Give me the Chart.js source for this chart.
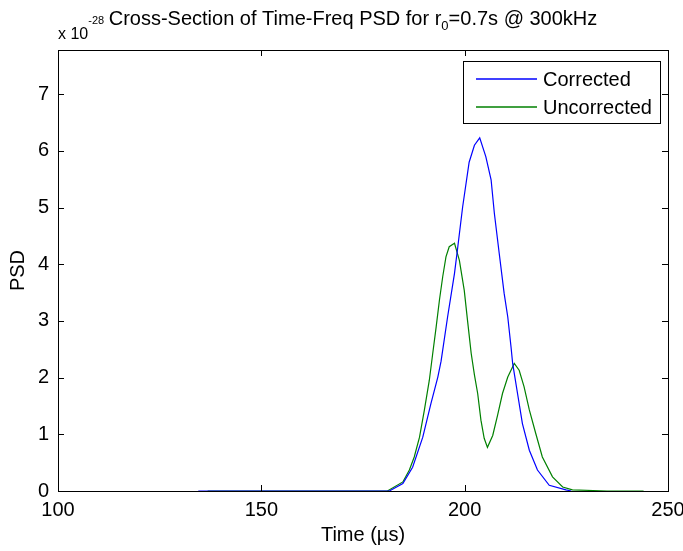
<!DOCTYPE html>
<html>
<head>
<meta charset="utf-8">
<script src="https://cdn.jsdelivr.net/npm/chart.js@4/dist/chart.umd.min.js"></script>
<style>
  html, body { margin: 0; padding: 0; background: #fff; }
  #wrap { width: 683px; height: 551px; position: relative; }
</style>
</head>
<body>
<div id="wrap"><canvas id="chart"></canvas></div>
<script>
// values (time in µs, PSD in units of 1e-28)
const correctedTime = [134.5, 150, 170, 181.5, 184.8, 187.2, 189.7, 191.7, 193.4, 194.2, 195.8, 197.5, 198.3, 199.5, 201.1, 202.4, 203.7, 205.2, 206.5, 207.3, 208.5, 209.7, 210.6, 211.4, 211.8, 213.0, 214.2, 215.9, 217.9, 220.8, 224.9, 226.2];
const correctedPsd  = [0, 0, 0, 0, 0.13, 0.42, 0.95, 1.54, 2.01, 2.29, 3.07, 3.84, 4.3, 5.01, 5.8, 6.1, 6.23, 5.9, 5.49, 4.9, 4.19, 3.49, 3.07, 2.54, 2.25, 1.72, 1.19, 0.72, 0.37, 0.1, 0.02, 0];

const uncorrectedTime = [136.8, 160, 181.0, 184.8, 186.4, 187.6, 188.9, 190.1, 191.3, 192.1, 193.0, 193.8, 194.6, 195.4, 196.2, 197.5, 198.7, 199.9, 200.7, 201.6, 202.4, 203.2, 204.0, 204.8, 205.6, 206.9, 208.1, 209.3, 210.6, 212.2, 213.4, 214.6, 215.9, 217.5, 219.1, 221.6, 224.1, 226.5, 235, 244];
const uncorrectedPsd  = [0, 0, 0, 0.16, 0.37, 0.6, 0.95, 1.43, 1.95, 2.4, 2.9, 3.37, 3.78, 4.13, 4.31, 4.37, 4.07, 3.54, 3.01, 2.43, 2.05, 1.72, 1.25, 0.93, 0.77, 0.98, 1.34, 1.72, 2.01, 2.25, 2.13, 1.84, 1.43, 1.01, 0.6, 0.25, 0.07, 0.02, 0, 0];

const seriesLabels = ['Corrected', 'Uncorrected'];
const seriesColors = ['#0000ff', '#008000'];
const xTicks = [100, 150, 200, 250];
const yTicks = [0, 1, 2, 3, 4, 5, 6, 7];

const FONT = "'Liberation Sans', Arial, sans-serif";
const FS = 20;

const toPoints = (xs, ys) => xs.map((x, i) => ({ x: x, y: ys[i] }));

// MATLAB-ish frame, inward ticks, title with exponent and legend box
const matlabLook = {
  id: 'matlabLook',
  afterDraw(chart) {
    const ctx = chart.ctx;
    const a = chart.chartArea;
    const xs = chart.scales.x;
    const ys = chart.scales.y;
    ctx.save();
    ctx.strokeStyle = '#000';
    ctx.lineWidth = 1;
    ctx.strokeRect(Math.round(a.left) + 0.5, Math.round(a.top) + 0.5,
      Math.round(a.right - a.left), Math.round(a.bottom - a.top));
    ctx.beginPath();
    const tl = 6;
    xTicks.forEach(v => {
      const px = Math.round(xs.getPixelForValue(v)) + 0.5;
      ctx.moveTo(px, a.bottom); ctx.lineTo(px, a.bottom - tl);
      ctx.moveTo(px, a.top); ctx.lineTo(px, a.top + tl);
    });
    yTicks.forEach(v => {
      const py = Math.round(ys.getPixelForValue(v)) + 0.5;
      ctx.moveTo(a.left, py); ctx.lineTo(a.left + tl, py);
      ctx.moveTo(a.right, py); ctx.lineTo(a.right - tl, py);
    });
    ctx.stroke();

    // exponent label
    ctx.fillStyle = '#000';
    ctx.textBaseline = 'alphabetic';
    ctx.textAlign = 'left';
    ctx.font = '16px ' + FONT;
    ctx.fillText('x 10', a.left, 39);
    const w = ctx.measureText('x 10').width;
    ctx.font = '11px ' + FONT;
    ctx.fillText('-28', a.left + w, 24);

    // title with subscript
    const parts = [
      { t: 'Cross-Section of Time-Freq PSD for r', f: FS, dy: 0 },
      { t: '0', f: 13, dy: 5 },
      { t: '=0.7s @ 300kHz', f: FS, dy: 0 }
    ];
    let total = 0;
    parts.forEach(p => { ctx.font = p.f + 'px ' + FONT; p.w = ctx.measureText(p.t).width; total += p.w; });
    let x = 353 - total / 2;
    parts.forEach(p => {
      ctx.font = p.f + 'px ' + FONT;
      ctx.fillText(p.t, x, 25 + p.dy);
      x += p.w;
    });

    // legend
    const lx = 463, ly = 61, lw = 197, lh = 62;
    ctx.fillStyle = '#fff';
    ctx.fillRect(lx, ly, lw, lh);
    ctx.strokeStyle = '#000';
    ctx.lineWidth = 1;
    ctx.strokeRect(lx + 0.5, ly + 0.5, lw, lh);
    ctx.font = FS + 'px ' + FONT;
    ctx.textBaseline = 'middle';
    seriesLabels.forEach((lab, i) => {
      const yy = 79 + i * 28;
      ctx.beginPath();
      ctx.strokeStyle = seriesColors[i];
      ctx.lineWidth = 1.3;
      ctx.moveTo(476, yy);
      ctx.lineTo(537, yy);
      ctx.stroke();
      ctx.fillStyle = '#000';
      ctx.fillText(lab, 543, yy + 1);
    });
    ctx.restore();
  }
};

new Chart(document.getElementById('chart'), {
  type: 'scatter',
  data: {
    datasets: [
      {
        label: seriesLabels[0],
        data: toPoints(correctedTime, correctedPsd),
        showLine: true,
        borderColor: seriesColors[0],
        borderWidth: 1.2,
        pointRadius: 0,
        tension: 0,
        clip: 2
      },
      {
        label: seriesLabels[1],
        data: toPoints(uncorrectedTime, uncorrectedPsd),
        showLine: true,
        borderColor: seriesColors[1],
        borderWidth: 1.2,
        pointRadius: 0,
        tension: 0,
        clip: 2
      }
    ]
  },
  options: {
    responsive: true,
    maintainAspectRatio: false,
    animation: false,
    layout: { padding: { top: 50, right: 15, left: 0, bottom: 0 } },
    plugins: {
      legend: { display: false },
      tooltip: { enabled: false }
    },
    scales: {
      x: {
        type: 'linear',
        min: 100,
        max: 250,
        afterBuildTicks: s => { s.ticks = xTicks.map(v => ({ value: v })); },
        afterFit: s => { s.height = 60; s.paddingLeft = 0; s.paddingRight = 0; },
        grid: { display: false, drawTicks: false },
        border: { display: false },
        ticks: { color: '#000', font: { family: FONT, size: FS }, padding: 7, maxRotation: 0 },
        title: { display: true, text: 'Time (µs)', color: '#000', font: { family: FONT, size: FS }, padding: { top: 2, bottom: 4 } }
      },
      y: {
        type: 'linear',
        min: 0,
        max: 7.78,
        afterBuildTicks: s => { s.ticks = yTicks.map(v => ({ value: v })); },
        afterFit: s => { s.width = 58; s.paddingTop = 0; s.paddingBottom = 0; },
        grid: { display: false, drawTicks: false },
        border: { display: false },
        ticks: { color: '#000', font: { family: FONT, size: FS }, padding: 9 },
        title: { display: true, text: 'PSD', color: '#000', font: { family: FONT, size: FS }, padding: { top: 6, bottom: 6 } }
      }
    }
  },
  plugins: [matlabLook]
});
</script>
</body>
</html>
